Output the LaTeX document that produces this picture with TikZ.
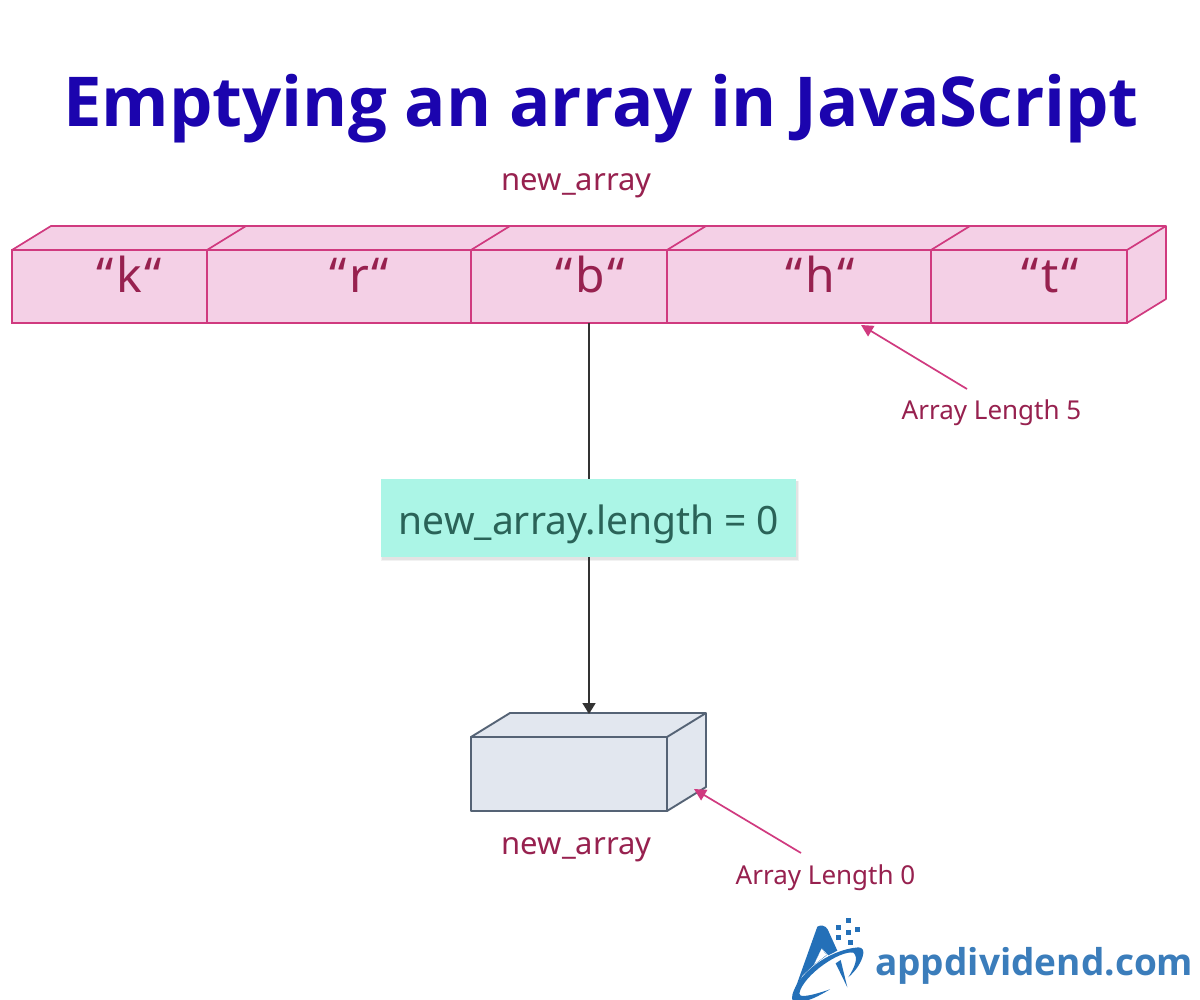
\documentclass[tikz,border=0pt]{standalone}
\usepackage{fontspec}
\setmainfont{Noto Sans}
\newfontfamily\titlefont{Open Sans}
\newfontfamily\logofont{Open Sans}
\usetikzlibrary{arrows.meta}
\definecolor{pinkfill}{HTML}{F4D0E6}
\definecolor{pinkline}{HTML}{D03A7F}
\definecolor{wine}{HTML}{97214F}
\definecolor{slatefill}{HTML}{E2E7EF}
\definecolor{slateline}{HTML}{556375}
\definecolor{mint}{HTML}{ABF5E6}
\definecolor{minttext}{HTML}{2A6358}
\definecolor{titleblue}{HTML}{1B04AE}
\definecolor{logoblue}{HTML}{2470B8}
\definecolor{logotext}{HTML}{3B7DBB}
\definecolor{darkline}{HTML}{333333}
\newcommand{\quoted}[1]{“\kern2.5pt #1\kern2.5pt“}
\tikzset{
  cellbox/.style={draw=pinkline,fill=pinkfill,line width=1.7pt,minimum height=73pt,inner sep=0pt,outer sep=0pt},
  celltext/.style={text=wine,inner sep=0pt,anchor=base,font=\fontsize{48}{48}\selectfont},
  pinkface/.style={draw=pinkline,fill=pinkfill,line width=1.7pt,line join=round},
  emptyface/.style={draw=slateline,fill=slatefill,line width=1.9pt,line join=round},
  emptybox/.style={emptyface,minimum width=196pt,minimum height=74pt,inner sep=0pt,outer sep=0pt},
  plainlabel/.style={text=wine,inner sep=0pt,anchor=base,font=\fontsize{31}{31}\selectfont},
  smalllabel/.style={text=wine,inner sep=0pt,anchor=base,font=\fontsize{26}{26}\selectfont},
  flowline/.style={draw=darkline,line width=1.7pt},
  flowarrow/.style={flowline,-{Triangle[length=11pt,width=13pt]}},
  notearrow/.style={draw=pinkline,line width=1.7pt,-{Triangle[length=12pt,width=12pt]}},
  logoshape/.style={fill=logoblue,draw=none}
}
\begin{document}
\begin{tikzpicture}[x=1pt,y=-1pt]
\useasboundingbox (0,0) rectangle (1200,1000);
\fill[white] (0,0) rectangle (1200,1000);
\node[inner sep=0pt,anchor=base,text=titleblue,font=\titlefont\bfseries\fontsize{68.8}{70}\selectfont] (title) at (601,126.5) {Emptying an array in JavaScript};
\node[plainlabel] (toplabel) at (576.5,191) {new\_array};
% top faces of the long array
\draw[pinkface] (12,250) -- (51,226) -- (1166,226) -- (1166,299) -- (1127,323) -- (1127,250) -- cycle;
\draw[pinkface] (207,250) -- (246,226);
\draw[pinkface] (471,250) -- (510,226);
\draw[pinkface] (667,250) -- (706,226);
\draw[pinkface] (931,250) -- (970,226);
\draw[pinkface] (1127,250) -- (1166,226);
\node[cellbox,minimum width=195pt,anchor=north west] (k) at (12,250) {};
\node[cellbox,minimum width=264pt,anchor=north west] (r) at (207,250) {};
\node[cellbox,minimum width=196pt,anchor=north west] (b) at (471,250) {};
\node[cellbox,minimum width=264pt,anchor=north west] (h) at (667,250) {};
\node[cellbox,minimum width=196pt,anchor=north west] (t) at (931,250) {};
\node[celltext] (kt) at (129,293) {\quoted{k}};
\node[celltext] (rt) at (359,293) {\quoted{r}};
\node[celltext] (bt) at (590,293) {\quoted{b}};
\node[celltext] (ht) at (820,293) {\quoted{h}};
\node[celltext] (tt) at (1050,293) {\quoted{t}};
\coordinate (bout) at (589,323);
% command box
\fill[black,opacity=.05] (381,481) rectangle (799,561);
\fill[black,opacity=.06] (382,481) rectangle (798,560);
\node[fill=mint,minimum width=415pt,minimum height=78pt,inner sep=0pt] (cmd) at (588.5,518) {};
\node[text=minttext,inner sep=0pt,anchor=base,font=\fontsize{39}{39}\selectfont] (cmdt) at (589,534) {new\_array.length = 0};
% empty array
\draw[emptyface] (471,737) -- (510,713) -- (706,713) -- (706,787) -- (667,811) -- (667,737) -- cycle;
\draw[emptyface] (667,737) -- (706,713);
\node[emptybox,draw=slateline,fill=slatefill,anchor=north west] (empty) at (471,737) {};
\coordinate (emptytop) at (589,714);
\node[plainlabel] (botlabel) at (576.5,854) {new\_array};
% connectors
\draw[flowline] (bout) -- (bout |- cmd.north);
\draw[flowarrow] (bout |- cmd.south) -- (emptytop);
% notes
\node[smalllabel] (len5) at (991.5,420) {Array Length 5};
\node[smalllabel] (len0) at (825.5,884) {Array Length 0};
\coordinate (len5s) at (967,389);
\coordinate (len5e) at (861,325);
\coordinate (len0s) at (801,853);
\coordinate (len0e) at (694,789);
\draw[notearrow] (len5s) -- (len5e);
\draw[notearrow] (len0s) -- (len0e);
% logo
\begin{scope}[shift={(760,900)},x=0.3333pt,y=-0.3333pt]
\fill[logoshape] (172,80) .. controls (182,74) and (196,76) .. (203,88) -- (232,152) -- (205,166) -- (185,144) -- (160,196) -- (128,226) -- (100,282) -- cycle;
\fill[logoshape] (185,144) -- (160,196) -- (200,166) -- cycle;
\fill[white] (185,146) -- (162,194) -- (199,165) -- cycle;
\fill[logoshape] (227,190) -- (242,180) -- (262,262) -- cycle;
\fill[logoshape] (97,285) .. controls (112,225) and (200,150) .. (295,142) .. controls (308,142) and (314,152) .. (308,170) .. controls (298,200) and (280,218) .. (265,232) .. controls (282,205) and (298,172) .. (280,158) .. controls (240,150) and (130,225) .. (118,280) .. controls (116,292) and (140,292) .. (210,268) .. controls (170,292) and (150,300) .. (130,304) -- (98,304) .. controls (96,298) and (96,292) .. (97,285) -- cycle;
\fill[logoshape] (258,54) rectangle (272,69);
\fill[logoshape] (228,75) rectangle (243,90);
\fill[logoshape] (258,90) rectangle (273,104);
\fill[logoshape] (285,82) rectangle (300,97);
\fill[logoshape] (228,106) rectangle (243,121);
\fill[logoshape] (264,120) rectangle (279,135);
\end{scope}
\node[inner sep=0pt,anchor=base west,text=logotext,font=\logofont\bfseries\fontsize{37}{37}\selectfont] (logo) at (875,975) {appdividend.com};
\end{tikzpicture}
\end{document}
